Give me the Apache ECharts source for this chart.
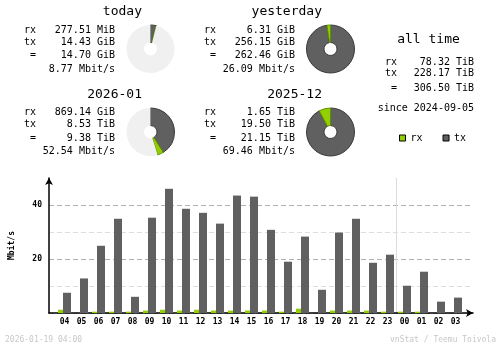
<!DOCTYPE html>
<html>
<head>
<meta charset="utf-8">
<script src="https://cdn.jsdelivr.net/npm/echarts@6/dist/echarts.min.js"></script>
<style>
html,body{margin:0;padding:0;background:#fff;}
#chart{width:500px;height:348px;}
</style>
</head>
<body>
<div id="chart"></div>
<script>
// ---- data ----
const hours = ['04','05','06','07','08','09','10','11','12','13','14','15','16','17','18','19','20','21','22','23','00','01','02','03'];
const rxRate = [1.2,0,0.5,0.5,0.5,0.9,1.2,0.9,1.2,0.9,0.9,0.9,0.9,0.5,1.6,0,0.9,0.9,0.9,0.5,0.5,0.5,0,0];
const txRate = [7.5,12.8,24.9,34.9,6.0,35.3,46.0,38.6,37.1,33.1,43.5,43.1,30.8,19.0,28.3,8.6,29.8,34.9,18.6,21.6,10.1,15.3,4.2,5.7];
const yTickLabels = ['20','40'];
const dayBreakIndex = 20; // first hour of the new day ('00')

const periodTitles = ['today','yesterday','2026-01','2025-12'];
const rxText = ['277.51 MiB','6.31 GiB','869.14 GiB','1.65 TiB'];
const txText = ['14.43 GiB','256.15 GiB','8.53 TiB','19.50 TiB'];
const totalText = ['14.70 GiB','262.46 GiB','9.38 TiB','21.15 TiB'];
const rateText = ['8.77 Mbit/s','26.09 Mbit/s','52.54 Mbit/s','69.46 Mbit/s'];
// pie values (GiB): rx, tx, unused remainder of the circle
const pieRx = [0.271, 6.31, 869.14, 1689.6];
const pieTx = [14.43, 256.15, 8734.7, 19968];
const pieRest = [363, 0, 11640, 0];

const allTimeTitle = 'all time';
const allTimeRx = '78.32 TiB';
const allTimeTx = '228.17 TiB';
const allTimeTotal = '306.50 TiB';
const sinceText = 'since 2024-09-05';
const footerLeft = '2026-01-19 04:00';
const footerRight = 'vnStat / Teemu Toivola';

// ---- styles ----
const MONO = '"DejaVu Sans Mono", monospace';
const RX = '#92cf00';
const TX = '#606060';
const REST = '#f0f0f0';

const chart = echarts.init(document.getElementById('chart'), null, {renderer:'canvas'});

function txt(text, x, y, size, align, opts) {
  opts = opts || {};
  return {
    type: 'text', x: x, y: y, silent: true,
    style: {
      text: text, fill: opts.color || '#000',
      font: (opts.weight || 'normal') + ' ' + size + 'px ' + MONO,
      align: align, verticalAlign: 'middle',
      textAlign: align, textVerticalAlign: 'middle'
    }
  };
}

const graphics = [];
const offX = [0, 180, 0, 180];
const offY = [0, 0, 82.5, 82.5];
for (let i = 0; i < 4; i++) {
  const dx = offX[i], dy = offY[i];
  graphics.push(txt(periodTitles[i], 142 + dx, 12 + dy, 13, 'right'));
  graphics.push(txt('rx', 36 + dx, 30 + dy, 10, 'right'));
  graphics.push(txt('tx', 36 + dx, 42 + dy, 10, 'right'));
  graphics.push(txt('=', 36 + dx, 55.5 + dy, 10, 'right'));
  graphics.push(txt(rxText[i], 115 + dx, 30 + dy, 10, 'right'));
  graphics.push(txt(txText[i], 115 + dx, 42 + dy, 10, 'right'));
  graphics.push(txt(totalText[i], 115 + dx, 55.5 + dy, 10, 'right'));
  graphics.push(txt(rateText[i], 115 + dx, 69 + dy, 10, 'right'));
}
graphics.push(txt(allTimeTitle, 428.5, 40, 13, 'center'));
graphics.push(txt('rx', 397, 62, 10, 'right'));
graphics.push(txt('tx', 397, 73.5, 10, 'right'));
graphics.push(txt('=', 397, 88, 10, 'right'));
graphics.push(txt(allTimeRx, 474, 62, 10, 'right'));
graphics.push(txt(allTimeTx, 474, 73.5, 10, 'right'));
graphics.push(txt(allTimeTotal, 474, 88, 10, 'right'));
graphics.push(txt(sinceText, 474, 108, 10, 'right'));
graphics.push(txt(footerLeft, 5, 340, 8, 'left', {color:'#c8c8c8'}));
graphics.push(txt(footerRight, 496, 340, 8, 'right', {color:'#c8c8c8'}));

const pieCenters = [[150.5,49],[330.5,49],[150.5,132],[330.5,132]];
const pieSeries = pieCenters.map((c, i) => ({
  type: 'pie', silent: true, center: c, radius: [6.5, 24],
  startAngle: 90, clockwise: true, avoidLabelOverlap: false,
  label: {show:false}, labelLine: {show:false}, emphasis: {disabled:true},
  data: [
    {name:'pie-tx', value: pieTx[i], itemStyle:{color:TX, borderColor:'#3a3a3a', borderWidth:1}},
    {name:'pie-rx', value: pieRx[i], itemStyle:{color:RX, borderColor:'#5f8f00', borderWidth:1}},
    {name:'pie-rest', value: pieRest[i], itemStyle:{color:REST, borderWidth:0}}
  ]
}));

const option = {
  animation: false,
  backgroundColor: '#fff',
  legend: {
    data: ['rx','tx'], left: 399, top: 133, padding: 0, itemWidth: 6, itemHeight: 6, itemGap: 20,
    selectedMode: false, icon: 'rect',
    itemStyle: {borderColor:'#000', borderWidth:1},
    textStyle: {fontFamily: MONO, fontSize: 10, color:'#000'}
  },
  grid: [
    {left: 48, right: 27, top: 178, bottom: 35},
    {left: 56, width: 408, top: 178, bottom: 35}
  ],
  xAxis: [
    {type:'value', gridIndex:0, min:0, max:1,
     axisLine:{show:true, lineStyle:{color:'#000', width:1.5}, symbol:['none','arrow'], symbolSize:[6,7]},
     axisTick:{show:false}, axisLabel:{show:false}, splitLine:{show:false}},
    {type:'category', gridIndex:1, data: hours, boundaryGap:true,
     axisLine:{show:false}, axisTick:{show:false},
     axisLabel:{fontFamily:MONO, fontSize:8, fontWeight:'bold', color:'#000', margin:5, interval:0},
     splitLine:{show:true, showMinLine:false, showMaxLine:false,
       interval:function(idx){return idx===0 || idx===dayBreakIndex;}, lineStyle:{color:'#dcdcdc', width:1}}}
  ],
  yAxis: [
    {type:'value', gridIndex:0, min:0, max:50, interval:10,
     name:'Mbit/s', nameLocation:'middle', nameRotate:90, nameGap:33,
     nameTextStyle:{fontFamily:MONO, fontSize:8, fontWeight:'bold', color:'#000'},
     axisLine:{show:true, lineStyle:{color:'#000', width:1.5}, symbol:['none','arrow'], symbolSize:[6,7]},
     axisTick:{show:false},
     axisLabel:{fontFamily:MONO, fontSize:8, fontWeight:'bold', color:'#000', margin:7,
       formatter:function(v){return yTickLabels.indexOf(String(v))>=0 ? String(v) : '';}},
     splitLine:{show:true, showMaxLine:false, lineStyle:{color:['#b0b0b0','#dedede'], type:[5,3], width:1}}},
    {type:'value', gridIndex:1, min:0, max:50, show:false}
  ],
  series: [
    {name:'rx', type:'bar', xAxisIndex:1, yAxisIndex:1, data: rxRate, barWidth:5, barGap:'0%',
     itemStyle:{color:RX}, silent:true},
    {name:'tx', type:'bar', xAxisIndex:1, yAxisIndex:1, data: txRate, barWidth:8, barGap:'0%',
     itemStyle:{color:TX}, silent:true}
  ].concat(pieSeries),
  graphic: graphics
};
chart.setOption(option);
</script>
</body>
</html>
